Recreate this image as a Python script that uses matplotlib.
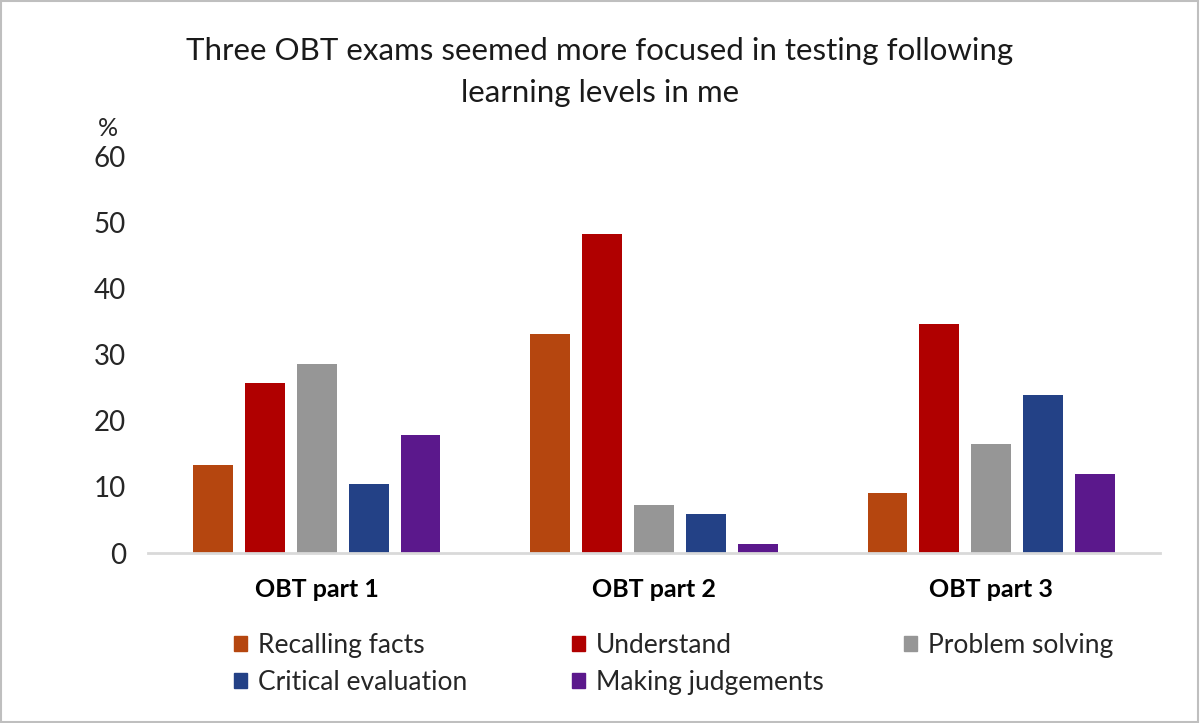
import matplotlib.pyplot as plt
from matplotlib.patches import Patch, Rectangle

plt.rcParams['font.family'] = ['Lato', 'DejaVu Sans']

# 数据
parts = ['OBT part 1', 'OBT part 2', 'OBT part 3']
levels = ['Recalling facts', 'Understand', 'Problem solving',
          'Critical evaluation', 'Making judgements']
recalling = [13.3, 33.2, 9.1]
understand = [25.8, 48.3, 34.7]
problem = [28.6, 7.3, 16.5]
critical = [10.5, 5.9, 24.0]
making = [17.9, 1.4, 12.0]
y_ticks = [0, 10, 20, 30, 40, 50, 60]

series = [recalling, understand, problem, critical, making]
colors = ['#B5460F', '#B00000', '#969696', '#234186', '#5B188C']

fig = plt.figure(figsize=(12, 7.23), dpi=100)
ax = fig.add_axes([148 / 1200, 1 - 553 / 723, 1012 / 1200, 396 / 723])

step = 0.154
width = 0.118
handles = []
for i, (vals, col, name) in enumerate(zip(series, colors, levels)):
    xs = [k + (i - 2) * step for k in range(len(parts))]
    ax.bar(xs, vals, width=width, color=col, label=name)
    handles.append(Patch(color=col, label=name))

ax.set_xlim(-0.5, 2.5)
ax.set_ylim(0, 60)
ax.set_yticks(y_ticks)
ax.set_xticks(range(len(parts)))
ax.set_xticklabels(parts, fontsize=18, fontweight='bold', color='black')
ax.tick_params(axis='y', length=0, labelsize=20, labelcolor='#262626', pad=16)
ax.tick_params(axis='x', length=0, pad=18)
for s in ['top', 'right', 'left']:
    ax.spines[s].set_visible(False)
ax.spines['bottom'].set_color('#d9d9d9')
ax.spines['bottom'].set_linewidth(2)

fig.text(108 / 1200, 1 - 128 / 723, '%', fontsize=18, color='#262626',
         ha='center', va='center')
fig.text(600 / 1200, 1 - 72 / 723,
         'Three OBT exams seemed more focused in testing following\nlearning levels in me',
         fontsize=22.5, color='#1a1a1a', ha='center', va='center', linespacing=1.65)

# 图例，分三列放置
cols = [[handles[0], handles[3]], [handles[1], handles[4]], [handles[2]]]
xpos = [234, 572, 904]
for hs, x in zip(cols, xpos):
    fig.legend(handles=hs, loc='upper left',
               bbox_to_anchor=(x / 1200, 1 - 633 / 723),
               frameon=False, fontsize=19, handlelength=0.5, handleheight=0.5,
               handletextpad=0.4, labelspacing=0.45, borderpad=0, borderaxespad=0,
               labelcolor='#262626')

fig.patches.append(Rectangle((0.001, 0.002), 0.997, 0.996, transform=fig.transFigure,
                             fill=False, edgecolor='#bfbfbf', linewidth=1.5))

fig.savefig('out.png', dpi=100)
